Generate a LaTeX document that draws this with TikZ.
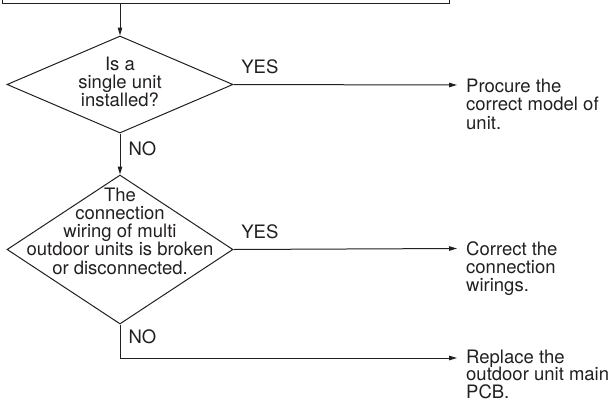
\documentclass[tikz,border=0pt]{standalone}
\usepackage{fontspec}
\setmainfont{TeX Gyre Heros}
\usetikzlibrary{positioning, shapes.geometric, arrows.meta, calc}
\definecolor{ink}{HTML}{231f20}

\begin{document}
\begin{tikzpicture}[
  x=1pt, y=-1pt,
  font=\fontsize{18.5pt}{18.2pt}\selectfont,
  decision/.style={draw=ink, shape=diamond, line width=1pt, minimum width=226pt, inner sep=0pt},
  question/.style={align=center, inner sep=0pt, text=ink},
  action/.style={align=left, anchor=north west, inner sep=0pt, text=ink},
  answer/.style={inner sep=0pt, text=ink},
  arr/.style={-{Triangle[length=8pt, width=4.5pt]}, line width=1pt, ink}
]
  \useasboundingbox (0,0) rectangle (612,402);

  % Top — previous step, cut off by the page
  \node[draw=ink, line width=1pt, anchor=south west, minimum width=447pt, minimum height=40pt] (prev) at (1.5,3.5) {};

  % Check 1 — single unit
  \node[decision, minimum height=97pt] (q1) at (120,84.5) {};
  \node[question] (q1t) at (120,82) {Is a\\single unit\\installed?};
  \coordinate (e1) at (457,85);
  \node[action] (a1) at (466,79) {Procure the\\correct model of\\unit.};

  % Check 2 — multi unit wiring
  \node[decision, minimum height=149pt] (q2) at (120,249.5) {};
  \node[question] (q2t) at (120,231) {The\\connection\\wiring of multi\\outdoor units is broken\\or disconnected.};
  \coordinate (e2) at (457,248.5);
  \node[action] (a2) at (466,241.5) {Correct the\\connection\\wirings.};

  % Last resort
  \coordinate (e3) at (457,358);
  \node[action, font=\fontsize{18.5pt}{17.6pt}\selectfont] (a3) at (466,349.5) {Replace the\\outdoor unit main\\PCB.};

  % arrows
  \draw[arr] (q1.north |- prev.south) -- (q1.north);
  \draw[arr] (q1.east) -- node[answer, pos=0.118, above=10pt] {YES} (e1);
  \draw[arr] (q1.south) -- node[answer, pos=0.36, right=8pt] {NO} (q2.north);
  \draw[arr] (q2.east) -- node[answer, pos=0.118, above=10pt] {YES} (e2);
  \draw[arr] (q2.south) |- node[answer, pos=0.176, right=8pt] {NO} (e3);
\end{tikzpicture}
\end{document}
